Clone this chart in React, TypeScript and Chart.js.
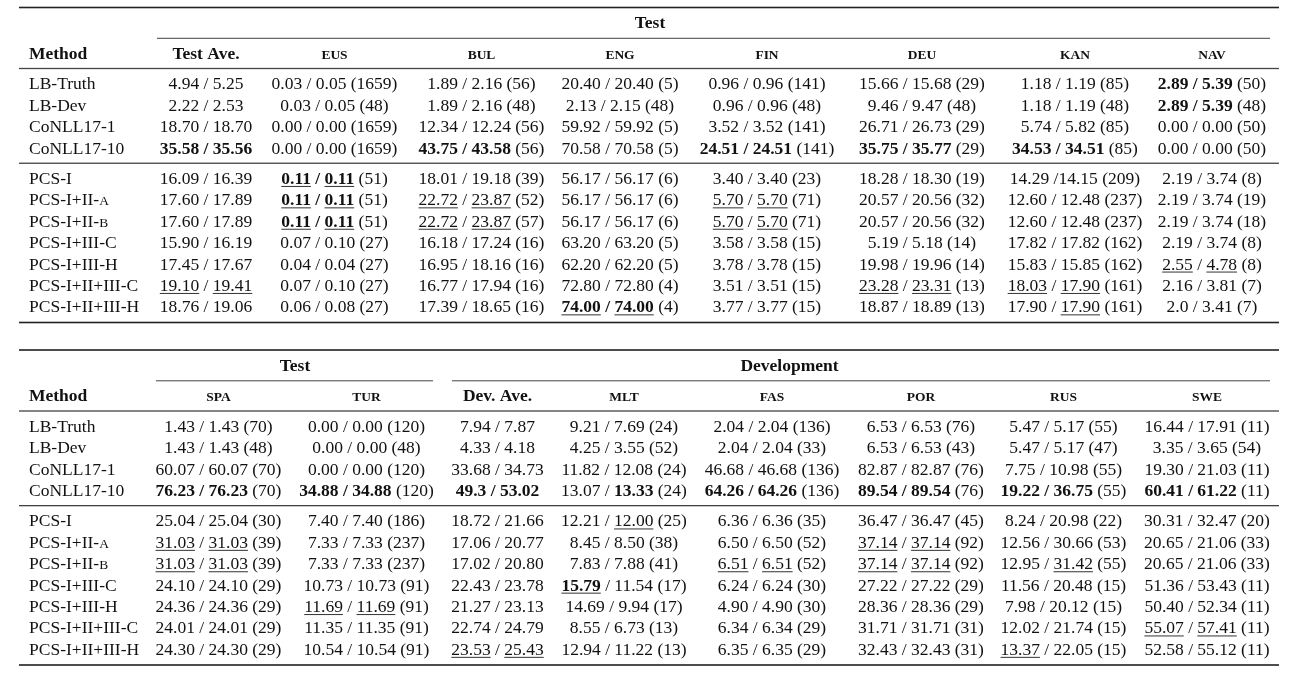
import { useEffect, useRef } from "react";
import { Chart, registerables } from "chart.js";

Chart.register(...registerables);

// ---------- DATA ----------
// markup: *bold*  _underline_  ^small caps^
const methods = [
  "LB-Truth", "LB-Dev", "CoNLL17-1", "CoNLL17-10",
  "PCS-I", "PCS-I+II-^A^", "PCS-I+II-^B^", "PCS-I+III-C", "PCS-I+III-H", "PCS-I+II+III-C", "PCS-I+II+III-H",
];

const topHeaders = ["*Test Ave.*", "*^EUS^*", "*^BUL^*", "*^ENG^*", "*^FIN^*", "*^DEU^*", "*^KAN^*", "*^NAV^*"];
const bottomHeaders = ["*^SPA^*", "*^TUR^*", "*Dev. Ave.*", "*^MLT^*", "*^FAS^*", "*^POR^*", "*^RUS^*", "*^SWE^*"];

const testAve = ["4.94 / 5.25", "2.22 / 2.53", "18.70 / 18.70", "*35.58 / 35.56*", "16.09 / 16.39", "17.60 / 17.89", "17.60 / 17.89", "15.90 / 16.19", "17.45 / 17.67", "_19.10_ / _19.41_", "18.76 / 19.06"];
const eus = ["0.03 / 0.05 (1659)", "0.03 / 0.05 (48)", "0.00 / 0.00 (1659)", "0.00 / 0.00 (1659)", "*_0.11_ / _0.11_* (51)", "*_0.11_ / _0.11_* (51)", "*_0.11_ / _0.11_* (51)", "0.07 / 0.10 (27)", "0.04 / 0.04 (27)", "0.07 / 0.10 (27)", "0.06 / 0.08 (27)"];
const bul = ["1.89 / 2.16 (56)", "1.89 / 2.16 (48)", "12.34 / 12.24 (56)", "*43.75 / 43.58* (56)", "18.01 / 19.18 (39)", "_22.72_ / _23.87_ (52)", "_22.72_ / _23.87_ (57)", "16.18 / 17.24 (16)", "16.95 / 18.16 (16)", "16.77 / 17.94 (16)", "17.39 / 18.65 (16)"];
const eng = ["20.40 / 20.40 (5)", "2.13 / 2.15 (48)", "59.92 / 59.92 (5)", "70.58 / 70.58 (5)", "56.17 / 56.17 (6)", "56.17 / 56.17 (6)", "56.17 / 56.17 (6)", "63.20 / 63.20 (5)", "62.20 / 62.20 (5)", "72.80 / 72.80 (4)", "*_74.00_ / _74.00_* (4)"];
const fin = ["0.96 / 0.96 (141)", "0.96 / 0.96 (48)", "3.52 / 3.52 (141)", "*24.51 / 24.51* (141)", "3.40 / 3.40 (23)", "_5.70_ / _5.70_ (71)", "_5.70_ / _5.70_ (71)", "3.58 / 3.58 (15)", "3.78 / 3.78 (15)", "3.51 / 3.51 (15)", "3.77 / 3.77 (15)"];
const deu = ["15.66 / 15.68 (29)", "9.46 / 9.47 (48)", "26.71 / 26.73 (29)", "*35.75 / 35.77* (29)", "18.28 / 18.30 (19)", "20.57 / 20.56 (32)", "20.57 / 20.56 (32)", "5.19 / 5.18 (14)", "19.98 / 19.96 (14)", "_23.28_ / _23.31_ (13)", "18.87 / 18.89 (13)"];
const kan = ["1.18 / 1.19 (85)", "1.18 / 1.19 (48)", "5.74 / 5.82 (85)", "*34.53 / 34.51* (85)", "14.29 /14.15 (209)", "12.60 / 12.48 (237)", "12.60 / 12.48 (237)", "17.82 / 17.82 (162)", "15.83 / 15.85 (162)", "_18.03_ / _17.90_ (161)", "17.90 / _17.90_ (161)"];
const nav = ["*2.89 / 5.39* (50)", "*2.89 / 5.39* (48)", "0.00 / 0.00 (50)", "0.00 / 0.00 (50)", "2.19 / 3.74 (8)", "2.19 / 3.74 (19)", "2.19 / 3.74 (18)", "2.19 / 3.74 (8)", "_2.55_ / _4.78_ (8)", "2.16 / 3.81 (7)", "2.0 / 3.41 (7)"];

const spa = ["1.43 / 1.43 (70)", "1.43 / 1.43 (48)", "60.07 / 60.07 (70)", "*76.23 / 76.23* (70)", "25.04 / 25.04 (30)", "_31.03_ / _31.03_ (39)", "_31.03_ / _31.03_ (39)", "24.10 / 24.10 (29)", "24.36 / 24.36 (29)", "24.01 / 24.01 (29)", "24.30 / 24.30 (29)"];
const tur = ["0.00 / 0.00 (120)", "0.00 / 0.00 (48)", "0.00 / 0.00 (120)", "*34.88 / 34.88* (120)", "7.40 / 7.40 (186)", "7.33 / 7.33 (237)", "7.33 / 7.33 (237)", "10.73 / 10.73 (91)", "_11.69_ / _11.69_ (91)", "11.35 / 11.35 (91)", "10.54 / 10.54 (91)"];
const devAve = ["7.94 / 7.87", "4.33 / 4.18", "33.68 / 34.73", "*49.3 / 53.02*", "18.72 / 21.66", "17.06 / 20.77", "17.02 / 20.80", "22.43 / 23.78", "21.27 / 23.13", "22.74 / 24.79", "_23.53_ / _25.43_"];
const mlt = ["9.21 / 7.69 (24)", "4.25 / 3.55 (52)", "11.82 / 12.08 (24)", "13.07 / *13.33* (24)", "12.21 / _12.00_ (25)", "8.45 / 8.50 (38)", "7.83 / 7.88 (41)", "*_15.79_* / 11.54 (17)", "14.69 / 9.94 (17)", "8.55 / 6.73 (13)", "12.94 / 11.22 (13)"];
const fas = ["2.04 / 2.04 (136)", "2.04 / 2.04 (33)", "46.68 / 46.68 (136)", "*64.26 / 64.26* (136)", "6.36 / 6.36 (35)", "6.50 / 6.50 (52)", "_6.51_ / _6.51_ (52)", "6.24 / 6.24 (30)", "4.90 / 4.90 (30)", "6.34 / 6.34 (29)", "6.35 / 6.35 (29)"];
const por = ["6.53 / 6.53 (76)", "6.53 / 6.53 (43)", "82.87 / 82.87 (76)", "*89.54 / 89.54* (76)", "36.47 / 36.47 (45)", "_37.14_ / _37.14_ (92)", "_37.14_ / _37.14_ (92)", "27.22 / 27.22 (29)", "28.36 / 28.36 (29)", "31.71 / 31.71 (31)", "32.43 / 32.43 (31)"];
const rus = ["5.47 / 5.17 (55)", "5.47 / 5.17 (47)", "7.75 / 10.98 (55)", "*19.22 / 36.75* (55)", "8.24 / 20.98 (22)", "12.56 / 30.66 (53)", "12.95 / _31.42_ (55)", "11.56 / 20.48 (15)", "7.98 / 20.12 (15)", "12.02 / 21.74 (15)", "_13.37_ / 22.05 (15)"];
const swe = ["16.44 / 17.91 (11)", "3.35 / 3.65 (54)", "19.30 / 21.03 (11)", "*60.41 / 61.22* (11)", "30.31 / 32.47 (20)", "20.65 / 21.06 (33)", "20.65 / 21.06 (33)", "51.36 / 53.43 (11)", "50.40 / 52.34 (11)", "_55.07_ / _57.41_ (11)", "52.58 / 55.12 (11)"];

const topColumns = [testAve, eus, bul, eng, fin, deu, kan, nav];
const bottomColumns = [spa, tur, devAve, mlt, fas, por, rus, swe];

// ---------- LAYOUT ----------
const W = 1302;
const H = 677;
const FONT = '"Liberation Serif", "Times New Roman", serif';
const SIZE = 17.5;
const methodX = 29;
const topColX = [206, 334.5, 481.5, 620, 767, 922, 1075, 1212];
const bottomColX = [218.5, 366.5, 497.5, 624, 772, 921, 1063.5, 1207];
const ruleLeft = 19;
const ruleRight = 1279;
const tableTops = [7.5, 350];
const ROW = 21.4;
// offsets relative to each table's top rule
const off = { group: 15, cmid: 30.8, header: 45.5, headRule: 61, row1: 76, midRule: 155.7, row2: 170.5, bottom: 315 };

function rowOffsets(): number[] {
  const r: number[] = [];
  for (let i = 0; i < 4; i++) r.push(off.row1 + i * ROW);
  for (let i = 0; i < 7; i++) r.push(off.row2 + i * ROW);
  return r;
}

type Seg = { t: string; b: boolean; u: boolean; sm: boolean };
function parse(s: string): Seg[] {
  const out: Seg[] = [];
  let b = false, u = false, sm = false, cur = "";
  const push = () => { if (cur) { out.push({ t: cur, b, u, sm }); cur = ""; } };
  for (const ch of s) {
    if (ch === "*") { push(); b = !b; }
    else if (ch === "_") { push(); u = !u; }
    else if (ch === "^") { push(); sm = !sm; }
    else cur += ch;
  }
  push();
  return out;
}

function drawRich(ctx: CanvasRenderingContext2D, s: string, x: number, y: number, align: "left" | "center", size = SIZE) {
  const parts = parse(s);
  const fonts = parts.map((p) => `${p.b ? "bold " : ""}${p.sm ? size * 0.77 : size}px ${FONT}`);
  const widths = parts.map((p, i) => { ctx.font = fonts[i]; return ctx.measureText(p.t).width; });
  const total = widths.reduce((a, c) => a + c, 0);
  let cx = align === "left" ? x : x - total / 2;
  const base = y + size * 0.34;
  ctx.textAlign = "left";
  ctx.textBaseline = "alphabetic";
  parts.forEach((p, i) => {
    ctx.font = fonts[i];
    ctx.fillStyle = "#111";
    ctx.fillText(p.t, cx, base);
    if (p.u) {
      ctx.fillStyle = "#333";
      ctx.fillRect(cx, base + 2, widths[i], 1);
    }
    cx += widths[i];
  });
}

const tablePlugin = {
  id: "tablePlugin",
  afterDatasetsDraw(chart: any) {
    const ctx: CanvasRenderingContext2D = chart.ctx;
    const xs = chart.scales.x;
    const ys = chart.scales.y;
    ctx.save();
    chart.data.datasets.forEach((ds: any, i: number) => {
      const meta = chart.getDatasetMeta(i);
      meta.data.forEach((el: any, j: number) => {
        drawRich(ctx, ds.cells[j], el.x, el.y, ds.align);
      });
    });
    const hline = (y: number, x0: number, x1: number, th: number, color: string) => {
      const py = ys.getPixelForValue(y);
      const px0 = xs.getPixelForValue(x0);
      const px1 = xs.getPixelForValue(x1);
      ctx.fillStyle = color;
      ctx.fillRect(px0, py - th / 2, px1 - px0, th);
    };
    tableTops.forEach((t, ti) => {
      hline(t, ruleLeft, ruleRight, 1.6, "#222");
      hline(t + off.headRule, ruleLeft, ruleRight, 1.3, "#444");
      hline(t + off.midRule, ruleLeft, ruleRight, 1.1, "#222");
      hline(t + off.bottom, ruleLeft, ruleRight, 1.6, "#222");
      const hy = ys.getPixelForValue(t + off.header);
      drawRich(ctx, "*Method*", xs.getPixelForValue(methodX), hy, "left");
      const heads = ti === 0 ? topHeaders : bottomHeaders;
      const cols = ti === 0 ? topColX : bottomColX;
      heads.forEach((h, k) => drawRich(ctx, h, xs.getPixelForValue(cols[k]), hy, "center"));
      const gy = ys.getPixelForValue(t + off.group);
      if (ti === 0) {
        hline(t + off.cmid, 157, 1270, 1, "#444");
        drawRich(ctx, "*Test*", xs.getPixelForValue(650), gy, "center");
      } else {
        hline(t + off.cmid, 156, 433, 1, "#444");
        hline(t + off.cmid, 452, 1270, 1, "#444");
        drawRich(ctx, "*Test*", xs.getPixelForValue(295), gy, "center");
        drawRich(ctx, "*Development*", xs.getPixelForValue(789.5), gy, "center");
      }
    });
    ctx.restore();
  },
};

function buildDatasets() {
  const rows = rowOffsets();
  const ds: any[] = [];
  tableTops.forEach((t, ti) => {
    ds.push({
      label: "Method",
      cells: methods,
      align: "left",
      data: methods.map((_, r) => ({ x: methodX, y: t + rows[r] })),
    });
    const cols = ti === 0 ? topColumns : bottomColumns;
    const xs = ti === 0 ? topColX : bottomColX;
    cols.forEach((col, c) => {
      ds.push({
        label: (ti === 0 ? topHeaders : bottomHeaders)[c],
        cells: col,
        align: "center",
        data: col.map((_, r) => ({ x: xs[c], y: t + rows[r] })),
      });
    });
  });
  return ds.map((d) => ({ ...d, pointRadius: 0, pointHoverRadius: 0, showLine: false }));
}

export default function App() {
  const ref = useRef<HTMLCanvasElement | null>(null);
  useEffect(() => {
    if (!ref.current) return;
    const chart = new Chart(ref.current, {
      type: "scatter",
      data: { datasets: buildDatasets() },
      options: {
        animation: false,
        responsive: false,
        devicePixelRatio: 1,
        events: [],
        layout: { padding: 0 },
        plugins: { legend: { display: false }, tooltip: { enabled: false }, title: { display: false } },
        scales: {
          x: { type: "linear", min: 0, max: W, display: false },
          y: { type: "linear", min: 0, max: H, reverse: true, display: false },
        },
      },
      plugins: [tablePlugin],
    } as any);
    return () => chart.destroy();
  }, []);
  return (
    <div style={{ position: "fixed", left: 0, top: 0, width: W, height: H, background: "#fff" }}>
      <canvas ref={ref} width={W} height={H} style={{ width: W, height: H, display: "block" }} />
    </div>
  );
}
